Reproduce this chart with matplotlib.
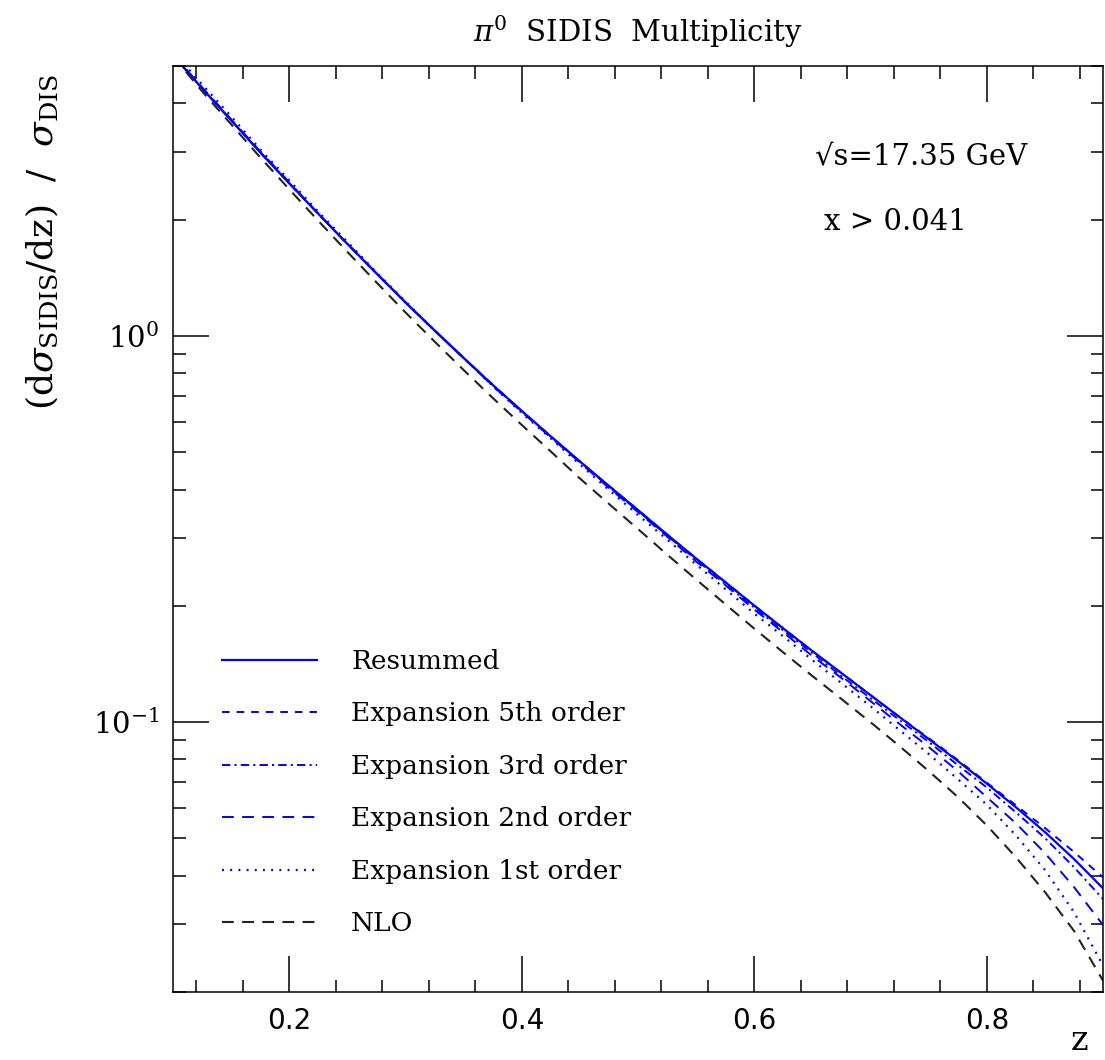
import numpy as np
import matplotlib
matplotlib.use('Agg')
import matplotlib.pyplot as plt
from matplotlib.ticker import MultipleLocator

plt.rcParams['font.family'] = 'DejaVu Serif'
plt.rcParams['mathtext.fontset'] = 'dejavuserif'
plt.rcParams['lines.scale_dashes'] = False

# z grid and curves
z = [0.100, 0.125, 0.150, 0.175, 0.200, 0.225, 0.250, 0.275, 0.300, 0.325,
     0.350, 0.375, 0.400, 0.425, 0.450, 0.475, 0.500, 0.525, 0.550, 0.575,
     0.600, 0.625, 0.650, 0.675, 0.700, 0.725, 0.750, 0.775, 0.800, 0.825,
     0.850, 0.875, 0.900]

resummed = [5.33, 4.377, 3.617, 2.988, 2.484, 2.071, 1.731, 1.452, 1.221, 1.033,
            0.877, 0.7466, 0.6393, 0.5491, 0.4730, 0.4088, 0.3540, 0.3060, 0.2652, 0.2305,
            0.2003, 0.1747, 0.1527, 0.1339, 0.1174, 0.1030, 0.0904, 0.0793, 0.0693, 0.0602,
            0.0519, 0.0442, 0.0371]

exp5 = [5.33, 4.377, 3.617, 2.988, 2.484, 2.071, 1.731, 1.452, 1.221, 1.033,
        0.877, 0.7466, 0.6393, 0.5491, 0.4730, 0.4088, 0.3540, 0.3060, 0.2652, 0.2305,
        0.2003, 0.1747, 0.1527, 0.1339, 0.1174, 0.1030, 0.0909, 0.0798, 0.0697, 0.0609,
        0.0532, 0.0461, 0.0396]

exp3 = [5.33, 4.377, 3.617, 2.988, 2.484, 2.071, 1.731, 1.452, 1.221, 1.033,
        0.877, 0.7466, 0.6393, 0.5491, 0.4730, 0.4064, 0.3519, 0.3042, 0.2636, 0.2278,
        0.1979, 0.1726, 0.1509, 0.1315, 0.1153, 0.1012, 0.0888, 0.0774, 0.0677, 0.0584,
        0.0501, 0.0421, 0.0348]

exp2 = [5.36, 4.403, 3.639, 3.006, 2.499, 2.071, 1.731, 1.452, 1.221, 1.033,
        0.877, 0.7421, 0.6355, 0.5458, 0.4702, 0.4039, 0.3498, 0.3024, 0.2605, 0.2264,
        0.1956, 0.1706, 0.1482, 0.1300, 0.1133, 0.0988, 0.0862, 0.0747, 0.0639, 0.0547,
        0.0458, 0.0374, 0.0298]

exp1 = [5.46, 4.48, 3.704, 3.042, 2.529, 2.096, 1.752, 1.461, 1.228, 1.033,
        0.877, 0.7421, 0.6317, 0.5426, 0.4646, 0.3992, 0.3436, 0.2970, 0.2559, 0.2211,
        0.1910, 0.1666, 0.1447, 0.1261, 0.1099, 0.0953, 0.0827, 0.0712, 0.0611, 0.0509,
        0.0414, 0.0322, 0.0234]

nlo = [5.30, 4.30, 3.532, 2.900, 2.397, 1.986, 1.650, 1.376, 1.150, 0.967,
       0.816, 0.691, 0.588, 0.502, 0.4274, 0.3672, 0.3161, 0.2716, 0.2340, 0.2021,
       0.1746, 0.1514, 0.1316, 0.1147, 0.0999, 0.0866, 0.0747, 0.0640, 0.0540, 0.0447,
       0.0363, 0.0288, 0.0214]

blue = '#0000ff'

fig = plt.figure(figsize=(11.05, 10.6), dpi=100)
ax = fig.add_axes([0.1566, 0.0642, 0.8416, 0.8735])

ax.plot(z, resummed, color=blue, lw=1.6, ls='-', label='Resummed')
ax.plot(z, exp5, color=blue, lw=1.4, ls=(0, (5.5, 5)), label='Expansion 5th order')
ax.plot(z, exp3, color=blue, lw=1.4, ls=(0, (6, 3, 1.5, 3)), label='Expansion 3rd order')
ax.plot(z, exp2, color=blue, lw=1.4, ls=(0, (8.5, 6)), label='Expansion 2nd order')
ax.plot(z, exp1, color=blue, lw=1.6, ls=(0, (1.4, 4.5)), label='Expansion 1st order')
ax.plot(z, nlo, color='#222222', lw=1.5, ls=(0, (8.5, 6)), label='NLO')

ax.set_yscale('log')
ax.set_xlim(0.1, 0.9)
ax.set_ylim(0.02, 5.0)

ax.xaxis.set_major_locator(MultipleLocator(0.2))
ax.xaxis.set_minor_locator(MultipleLocator(0.04))
ax.tick_params(which='both', direction='in', top=True, right=True, width=1.1)
ax.tick_params(which='major', length=26, pad=11)
ax.tick_params(which='minor', length=9)
ax.tick_params(axis='x', labelsize=20)
ax.tick_params(axis='y', labelsize=21, pad=10)
for lab in ax.get_xticklabels():
    lab.set_family('DejaVu Sans')
for sp in ax.spines.values():
    sp.set_linewidth(1.1)

ax.set_title(r'$\pi^0$  SIDIS  Multiplicity', fontsize=21, pad=17)
ax.set_xlabel('z', fontsize=24)
ax.xaxis.set_label_coords(0.975, -0.036)
ax.set_ylabel(r'$(\mathrm{d}\sigma_{\mathrm{SIDIS}}/\mathrm{dz})\ \ /\ \ \sigma_{\mathrm{DIS}}$', fontsize=26)
ax.yaxis.set_label_coords(-0.122, 0.81)

ax.text(0.69, 0.902, '\u221as=17.35 GeV', transform=ax.transAxes, fontsize=21, va='center')
ax.text(0.70, 0.8315, 'x > 0.041', transform=ax.transAxes, fontsize=21, va='center')

ax.legend(loc='upper left', bbox_to_anchor=(0.027, 0.396), frameon=False, fontsize=19,
          handlelength=3.6, handletextpad=1.3, labelspacing=1.04)

fig.savefig('out.png', dpi=100)
